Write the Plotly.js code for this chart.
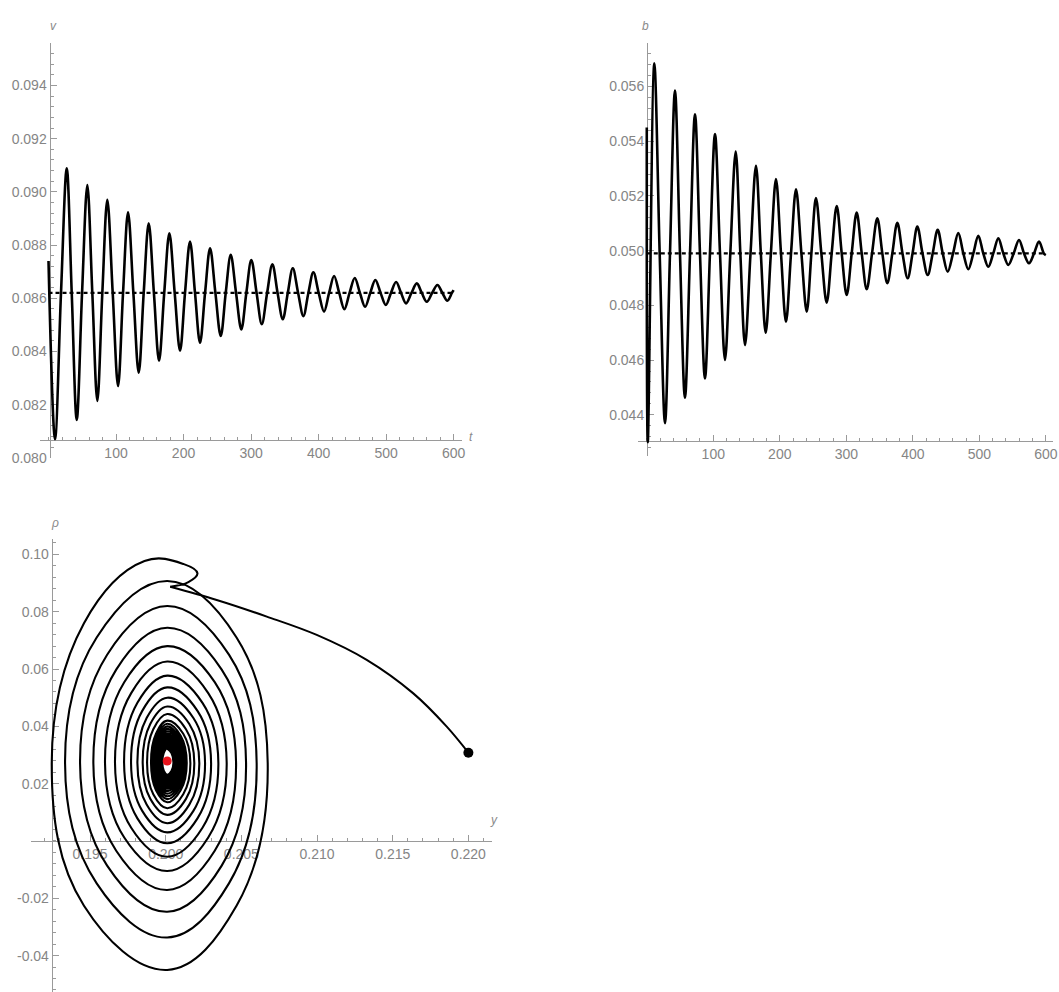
<!DOCTYPE html>
<html>
<head>
<meta charset="utf-8">
<script src="https://cdn.plot.ly/plotly-3.0.1.min.js"></script>
<style>
  html, body { margin: 0; padding: 0; background: #fff; }
  #chart { width: 1059px; height: 992px; }
</style>
</head>
<body>
<div id="chart"></div>
<script>
// v(t): start value, then alternating troughs / peaks
const vTime  = [0, 9.6, 27, 41.8, 57.5, 72.3, 87.1, 103, 117.8, 133.6, 148.4, 163.7, 179, 194.8, 209.6, 224.4,
                239.3, 255.1, 269.9, 285.6, 300.4, 315.9, 331.6, 347, 361.8, 377.5, 392.3, 408.1, 423, 438.2,
                453.6, 468.9, 484.1, 499.6, 514.8, 529.6, 545.5, 560.3, 576, 590.8, 600];
const vValue = [0.0874, 0.0807, 0.09089, 0.08143, 0.09026, 0.08214, 0.08970, 0.08270, 0.08923, 0.08320,
                0.08882, 0.08365, 0.08844, 0.08403, 0.08813, 0.08433, 0.08788, 0.08458, 0.08763, 0.08483,
                0.08744, 0.08503, 0.08728, 0.08521, 0.08713, 0.08533, 0.08698, 0.08550, 0.08684, 0.08559,
                0.08676, 0.08568, 0.08669, 0.08575, 0.08661, 0.08581, 0.08656, 0.08587, 0.08650, 0.08591, 0.08631];
// times where v crosses the dashed equilibrium line
const vCrossTime = [18.5, 34.4, 49.7, 64.9, 79.7, 95.1, 110.4, 125.7, 141, 156.1, 171.4, 186.9, 202.2, 217,
                    231.9, 247.2, 262.5, 277.8, 293, 308.2, 323.8, 339.3, 354.4, 369.7, 384.9, 400.2, 415.6,
                    430.6, 445.9, 461.3, 476.5, 491.9, 507.2, 522.2, 537.6, 552.9, 568.2, 583.4, 597.5];
const vEquilibrium = 0.0862;

// b(t)
const bTime  = [0, 1.5, 11.3, 27.4, 42.4, 57.4, 72.5, 87.5, 102.6, 117.6, 133.7, 147.7, 164.2, 178.8, 194.3,
                209.3, 224.4, 240.5, 254.4, 270.5, 285.6, 300.6, 315.6, 330.7, 346.6, 361.7, 376.7, 392.3,
                406.8, 422.4, 437.4, 452.5, 468.4, 483.5, 498.5, 513.5, 528.6, 543.6, 559.7, 574.7, 589.8, 600];
const bValue = [0.0545, 0.0430, 0.05685, 0.04369, 0.05585, 0.04462, 0.05499, 0.04533, 0.05426, 0.04600,
                0.05362, 0.04655, 0.05310, 0.04700, 0.05262, 0.04740, 0.05224, 0.04777, 0.05192, 0.04810,
                0.05163, 0.04838, 0.05139, 0.04859, 0.05118, 0.04881, 0.05102, 0.04899, 0.05088, 0.04911,
                0.05076, 0.04923, 0.05064, 0.04932, 0.05054, 0.04941, 0.05045, 0.04948, 0.05039, 0.04954,
                0.05033, 0.04984];
const bCrossTime = [19.4, 34.9, 49.9, 65, 80, 95, 110.1, 125.6, 140.7, 156, 171.5, 186.6, 201.8, 216.9, 232.5,
                    247.5, 262.5, 278, 293.1, 308.1, 323.2, 338.7, 354.2, 369.2, 384.5, 399.6, 414.6, 429.9,
                    445, 460.5, 476, 491, 506, 521, 536.1, 551.7, 567.2, 582.3, 597];
const bEquilibrium = 0.0499;

// phase portrait (y, rho): transient arc from the start point to the cusp
const arcY   = [0.2200, 0.21857, 0.21636, 0.21328, 0.20998, 0.20668, 0.20337, 0.2003];
const arcRho = [0.0308, 0.0399, 0.0515, 0.0632, 0.0719, 0.0783, 0.0841, 0.0887];
// small hook after the cusp
const hookY   = [0.2003, 0.2015, 0.2021, 0.2012, 0.1986];
const hookRho = [0.0887, 0.0903, 0.0934, 0.0966, 0.0977];
// spiral turning points, loop by loop (left, bottom, right, then next top)
const leftY     = [0.19247, 0.19335, 0.19434, 0.19522, 0.19599, 0.19665, 0.19725, 0.19771, 0.19813, 0.19848,
                   0.19877, 0.19903, 0.19912, 0.1992, 0.19927, 0.19933, 0.19939, 0.19945, 0.1995, 0.19955,
                   0.1996, 0.19964, 0.19968, 0.19972, 0.19975, 0.19978];
const bottomRho = [-0.0450, -0.0337, -0.0247, -0.0171, -0.0105, -0.0055, -0.0008, 0.0030, 0.0062, 0.0091,
                   0.0114, 0.0135, 0.0146, 0.0156, 0.0165, 0.0174, 0.0182, 0.0189, 0.0196, 0.0202,
                   0.0208, 0.0213, 0.0218, 0.0223, 0.0227, 0.0231];
const rightY    = [0.20674, 0.20601, 0.20531, 0.20465, 0.20403, 0.20348, 0.20300, 0.2026, 0.20222, 0.20189,
                   0.20163, 0.20139, 0.20129, 0.2012, 0.20111, 0.20103, 0.20096, 0.20089, 0.20083, 0.20077,
                   0.20072, 0.20067, 0.20063, 0.20059, 0.20055, 0.20051];
const topRho    = [0.0907, 0.0820, 0.0744, 0.0680, 0.0626, 0.0577, 0.0536, 0.0500, 0.0469, 0.0443,
                   0.0420, 0.0409, 0.0400, 0.0391, 0.0383, 0.0375, 0.0368, 0.0361, 0.0355, 0.0349,
                   0.0343, 0.0338, 0.0333, 0.0328, 0.0324, 0.0322];
// shoulder points between the turning points of each loop
const shoulderLeftY  = [0.1946, 0.19544, 0.19613, 0.19673, 0.19726, 0.19772, 0.19813, 0.19845, 0.19874, 0.19898,
                        0.19918, 0.19936, 0.19942, 0.19948, 0.19953, 0.19957, 0.19961, 0.19965, 0.19969, 0.19972,
                        0.19975, 0.19978, 0.19981, 0.19984, 0.19986, 0.19988];
const shoulderRightY = [0.20468, 0.20418, 0.2037, 0.20324, 0.20281, 0.20243, 0.2021, 0.20183, 0.20156, 0.20134,
                        0.20116, 0.20099, 0.20092, 0.20086, 0.2008, 0.20074, 0.20069, 0.20065, 0.2006, 0.20056,
                        0.20053, 0.20049, 0.20047, 0.20044, 0.20041, 0.20038];
const shoulderLowRho = [-0.0226, -0.0148, -0.0086, -0.0034, 0.0012, 0.0046, 0.0079, 0.0105, 0.0127, 0.0147,
                        0.0163, 0.0177, 0.0185, 0.0192, 0.0198, 0.0204, 0.0210, 0.0215, 0.0220, 0.0224,
                        0.0228, 0.0231, 0.0235, 0.0238, 0.0241, 0.0244];
const shoulderTopRho = [0.0760, 0.0710, 0.0650, 0.0598, 0.0554, 0.0516, 0.0482, 0.0454, 0.0429, 0.0408,
                        0.0390, 0.0374, 0.0367, 0.0360, 0.0354, 0.0349, 0.0343, 0.0338, 0.0333, 0.0329,
                        0.0325, 0.0321, 0.0318, 0.0314, 0.0311, 0.0308, 0.0307];
const sideRho = 0.0272;      // height of the left / right turning points
const midY = 0.2001;         // y of the top / bottom turning points
const startPoint = [0.2200, 0.0308];
const equilibrium = [0.2001, 0.0279];

// tick labels
const tTicks = [100, 200, 300, 400, 500, 600];
const vTicks = [0.080, 0.082, 0.084, 0.086, 0.088, 0.090, 0.092, 0.094];
const bTicks = [0.044, 0.046, 0.048, 0.050, 0.052, 0.054, 0.056];
const yTicks = [0.195, 0.200, 0.205, 0.210, 0.215, 0.220];
const rhoTicks = [-0.04, -0.02, 0.02, 0.04, 0.06, 0.08, 0.10];

// merge extremes with the crossings of the dashed line, in time order
function withCrossings(times, values, cross, eq) {
    const pts = times.map((t, i) => [t, values[i]]).concat(cross.map(t => [t, eq]));
    pts.sort((a, b) => a[0] - b[0]);
    return {x: pts.map(p => p[0]), y: pts.map(p => p[1])};
}
const vSeries = withCrossings(vTime, vValue, vCrossTime, vEquilibrium);
const bSeries = withCrossings(bTime, bValue, bCrossTime, bEquilibrium);

// build the spiral path: top -> upper left -> left -> lower left -> bottom -> lower right -> right -> upper right -> top
let spiralY = hookY.slice(), spiralRho = hookRho.slice();
for (let k = 0; k < leftY.length; k++) {
    spiralY.push(shoulderLeftY[k], leftY[k], shoulderLeftY[k], midY,
                 shoulderRightY[k], rightY[k], shoulderRightY[k], midY);
    spiralRho.push(shoulderTopRho[k], sideRho, shoulderLowRho[k], bottomRho[k],
                   shoulderLowRho[k], sideRho, shoulderTopRho[k + 1], topRho[k]);
}

const W = 1059, H = 992;
const fx = px => px / W;
const fy = px => (H - px) / H;

const axisGray = '#9a9a9a';
const labelFont = {family: 'Liberation Sans, Arial, sans-serif', size: 14, color: '#858585'};

function axis(extra) {
    return Object.assign({
        showgrid: false, zeroline: false, showline: true,
        linecolor: axisGray, linewidth: 1,
        ticks: 'inside', ticklen: 6, tickcolor: axisGray, tickwidth: 1,
        tickfont: labelFont, layer: 'below traces', fixedrange: true
    }, extra);
}

const curve = {color: 'black', width: 2.6, shape: 'spline', smoothing: 1};
const dashed = {color: 'black', width: 2.2, dash: '4px,3px'};

const traces = [
    {x: [0, 600], y: [vEquilibrium, vEquilibrium], xaxis: 'x', yaxis: 'y', mode: 'lines', line: dashed},
    {x: vSeries.x, y: vSeries.y, xaxis: 'x', yaxis: 'y', mode: 'lines', line: curve},
    {x: [0, 600], y: [bEquilibrium, bEquilibrium], xaxis: 'x2', yaxis: 'y2', mode: 'lines', line: dashed},
    {x: bSeries.x, y: bSeries.y, xaxis: 'x2', yaxis: 'y2', mode: 'lines', line: curve},
    {x: arcY, y: arcRho, xaxis: 'x3', yaxis: 'y3', mode: 'lines',
     line: {color: 'black', width: 2, shape: 'spline', smoothing: 1}},
    {x: spiralY, y: spiralRho, xaxis: 'x3', yaxis: 'y3', mode: 'lines',
     line: {color: 'black', width: 2.1, shape: 'spline', smoothing: 1.15}},
    {x: [startPoint[0]], y: [startPoint[1]], xaxis: 'x3', yaxis: 'y3', mode: 'markers',
     marker: {color: 'black', size: 10}},
    {x: [equilibrium[0]], y: [equilibrium[1]], xaxis: 'x3', yaxis: 'y3', mode: 'markers',
     marker: {color: '#e8141c', size: 9}}
];

const layout = {
    width: W, height: H,
    margin: {l: 0, r: 0, t: 0, b: 0},
    paper_bgcolor: 'white', plot_bgcolor: 'rgba(0,0,0,0)',
    showlegend: false,
    xaxis: axis({domain: [fx(40), fx(461.7)], range: [-12.6, 612], anchor: 'free', position: fy(440),
                 tickmode: 'array', tickvals: tTicks, ticktext: tTicks.map(String),
                 minor: {tickmode: 'linear', tick0: 0, dtick: 20, ticks: 'inside', ticklen: 3, tickcolor: axisGray}}),
    yaxis: axis({domain: [fy(457.9), fy(42.9)], range: [0.0800, 0.0956], anchor: 'free', position: fx(49.5),
                 tickmode: 'array', tickvals: vTicks, ticktext: vTicks.map(v => v.toFixed(3)),
                 minor: {tickmode: 'linear', tick0: 0.08, dtick: 0.0004, ticks: 'inside', ticklen: 3, tickcolor: axisGray}}),
    xaxis2: axis({domain: [fx(638), fx(1053)], range: [-13.2, 610.8], anchor: 'free', position: fy(441),
                  tickmode: 'array', tickvals: tTicks, ticktext: tTicks.map(String),
                  minor: {tickmode: 'linear', tick0: 0, dtick: 20, ticks: 'inside', ticklen: 3, tickcolor: axisGray}}),
    yaxis2: axis({domain: [fy(455.8), fy(42.8)], range: [0.0425, 0.0576], anchor: 'free', position: fx(647),
                  tickmode: 'array', tickvals: bTicks, ticktext: bTicks.map(v => v.toFixed(3)),
                  minor: {tickmode: 'linear', tick0: 0.044, dtick: 0.0004, ticks: 'inside', ticklen: 3, tickcolor: axisGray}}),
    xaxis3: axis({domain: [fx(31), fx(491.7)], range: [0.1911, 0.22154], anchor: 'free', position: fy(841),
                  tickmode: 'array', tickvals: yTicks, ticktext: yTicks.map(v => v.toFixed(3)),
                  minor: {tickmode: 'linear', tick0: 0.19, dtick: 0.001, ticks: 'inside', ticklen: 3, tickcolor: axisGray}}),
    yaxis3: axis({domain: [0, fy(539.2)], range: [-0.0527, 0.1053], anchor: 'free', position: fx(51.7),
                  tickmode: 'array', tickvals: rhoTicks, ticktext: rhoTicks.map(v => v.toFixed(2)),
                  minor: {tickmode: 'linear', tick0: 0, dtick: 0.004, ticks: 'inside', ticklen: 3, tickcolor: axisGray}}),
    annotations: [
        ['v', 47.7, 16.7], ['t', 471, 437], ['b', 645, 16.7], ['ρ', 49.3, 523.3], ['y', 494, 829]
    ].map(a => ({text: '<i>' + a[0] + '</i>', x: fx(a[1]), y: fy(a[2]), xref: 'paper', yref: 'paper',
                 showarrow: false, font: {family: 'Liberation Sans, Arial, sans-serif', size: 12, color: '#8a8a8a'}}))
};

Plotly.newPlot('chart', traces, layout, {staticPlot: true});
</script>
</body>
</html>
